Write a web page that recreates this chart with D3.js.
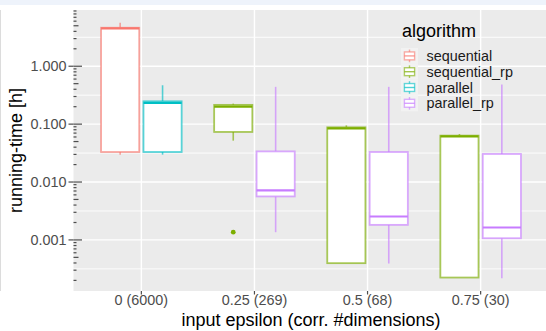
<!DOCTYPE html>
<html><head><meta charset="utf-8">
<script src="https://cdn.jsdelivr.net/npm/d3@7"></script>
<style>body{margin:0;background:#fff}svg{display:block}</style>
</head><body>
<svg id="chart" width="546" height="331"></svg>
<script>
// ---------------- data ----------------
const categories = ["0 (6000)", "0.25 (269)", "0.5 (68)", "0.75 (30)"];
const algorithms = ["sequential", "sequential_rp", "parallel", "parallel_rp"];
const algoColors = ["#F8766D", "#7CAE00", "#00BFC4", "#C77CFF"];

const boxCategory  = ["0 (6000)", "0 (6000)", "0.25 (269)", "0.25 (269)", "0.5 (68)", "0.5 (68)", "0.75 (30)", "0.75 (30)"];
const boxAlgorithm = ["sequential", "parallel", "sequential_rp", "parallel_rp", "sequential_rp", "parallel_rp", "sequential_rp", "parallel_rp"];
const whiskerLow   = [0.0297, 0.0297, 0.0518, 0.00136, 0.000397, 0.000391, 0.000224, 0.000218];
const quartile1    = [0.033, 0.033, 0.0733, 0.00564, 0.000397, 0.00182, 0.000224, 0.00107];
const medians      = [4.49, 0.233, 0.201, 0.00716, 0.0846, 0.00254, 0.0615, 0.00164];
const quartile3    = [4.62, 0.248, 0.215, 0.0338, 0.088, 0.033, 0.0633, 0.0305];
const whiskerHigh  = [5.63, 0.469, 0.226, 0.44, 0.0953, 0.44, 0.0676, 0.482];

const outlierCategory  = ["0.25 (269)"];
const outlierAlgorithm = ["sequential_rp"];
const outlierValue     = [0.00136];

const yTickValues = [1, 0.1, 0.01, 0.001];
const yTickLabels = ["1.000", "0.100", "0.010", "0.001"];
const yMinorGrid  = [3.1623, 0.31623, 0.031623, 0.0031623, 0.00031623];

const xTitle = "input epsilon (corr. #dimensions)";
const yTitle = "running-time [h]";
const legendTitle = "algorithm";

// ---------------- layout ----------------
const W = 546, H = 331;
const panel = {left: 73.5, right: 548.5, top: 10, bottom: 291};
const font = "'Liberation Sans', Arial, Helvetica, sans-serif";
const svg = d3.select("#chart").attr("font-family", font);

svg.append("rect").attr("x", 0).attr("y", 0).attr("width", W).attr("height", 5).attr("fill", "#eef3fb");
svg.append("line").attr("x1", 0.5).attr("x2", 0.5).attr("y1", panel.top).attr("y2", panel.bottom)
  .attr("stroke", "#dcdcdc").attr("stroke-width", 1);

const x = d3.scalePoint().domain(categories).range([panel.left, panel.right]).padding(0.6);
const step = x.step();

const allVals = whiskerLow.concat(whiskerHigh, outlierValue).map(Math.log10);
const lo = d3.min(allVals), hi = d3.max(allVals), ex = (hi - lo) * 0.05;
const y = d3.scaleLog().domain([Math.pow(10, lo - ex), Math.pow(10, hi + ex)]).range([panel.bottom, panel.top]);
const color = d3.scaleOrdinal().domain(algorithms).range(algoColors);

// panel background
svg.append("rect").attr("x", panel.left).attr("y", panel.top)
  .attr("width", panel.right - panel.left).attr("height", panel.bottom - panel.top).attr("fill", "#ebebeb");

const grid = svg.append("g");
grid.selectAll(".minor").data(yMinorGrid.filter(v => y(v) >= panel.top && y(v) <= panel.bottom)).join("line")
  .attr("x1", panel.left).attr("x2", panel.right).attr("y1", d => y(d)).attr("y2", d => y(d))
  .attr("stroke", "#fff").attr("stroke-width", 0.9);
grid.selectAll(".major").data(yTickValues).join("line")
  .attr("x1", panel.left).attr("x2", panel.right).attr("y1", d => y(d)).attr("y2", d => y(d))
  .attr("stroke", "#fff").attr("stroke-width", 1.4);
grid.selectAll(".vmajor").data(categories).join("line")
  .attr("x1", d => x(d)).attr("x2", d => x(d)).attr("y1", panel.top).attr("y2", panel.bottom)
  .attr("stroke", "#fff").attr("stroke-width", 1.4);

// log ticks along left edge
const logTicks = [];
for (let k = -5; k <= 1; k++) for (let m = 1; m <= 9; m++) {
  const v = m * Math.pow(10, k);
  if (y(v) >= panel.top && y(v) <= panel.bottom) logTicks.push({v, m});
}
svg.append("g").selectAll("line").data(logTicks).join("line")
  .attr("x1", panel.left).attr("x2", d => panel.left + (d.m === 1 ? 8.5 : d.m === 5 ? 5 : 3))
  .attr("y1", d => y(d.v)).attr("y2", d => y(d.v))
  .attr("stroke", "#4d4d4d").attr("stroke-width", 1.2);

// boxes
const boxes = boxCategory.map((c, i) => ({
  cat: c, algo: boxAlgorithm[i], lw: whiskerLow[i], q1: quartile1[i], med: medians[i], q3: quartile3[i], hw: whiskerHigh[i]
}));
function slotCenter(cat, algo) {
  const present = algorithms.filter(a => boxes.some(b => b.cat === cat && b.algo === a));
  const i = present.indexOf(algo), n = present.length;
  const slot = 0.75 * step / n;
  return x(cat) + (i - (n - 1) / 2) * slot;
}
const boxW = 0.75 * step / 2 * 0.9;
const bg = svg.append("g");
boxes.forEach(b => {
  const cx = slotCenter(b.cat, b.algo), col = color(b.algo);
  const g = bg.append("g");
  g.append("line").attr("x1", cx).attr("x2", cx).attr("y1", y(b.hw)).attr("y2", y(b.q3))
    .attr("stroke", col).attr("stroke-opacity", 0.65).attr("stroke-width", 1.6);
  g.append("line").attr("x1", cx).attr("x2", cx).attr("y1", y(b.q1)).attr("y2", y(b.lw))
    .attr("stroke", col).attr("stroke-opacity", 0.65).attr("stroke-width", 1.6);
  g.append("rect").attr("x", cx - boxW / 2).attr("width", boxW)
    .attr("y", y(b.q3)).attr("height", Math.max(0.5, y(b.q1) - y(b.q3)))
    .attr("fill", "#fff").attr("stroke", col).attr("stroke-opacity", 0.65).attr("stroke-width", 1.8);
  g.append("line").attr("x1", cx - boxW / 2).attr("x2", cx + boxW / 2).attr("y1", y(b.med)).attr("y2", y(b.med))
    .attr("stroke", col).attr("stroke-width", 2.2);
});
outlierValue.forEach((v, i) => {
  bg.append("circle").attr("cx", slotCenter(outlierCategory[i], outlierAlgorithm[i])).attr("cy", y(v))
    .attr("r", 2.4).attr("fill", color(outlierAlgorithm[i]));
});

// axes
const axY = svg.append("g");
yTickValues.forEach((v, i) => {
  axY.append("line").attr("x1", panel.left - 5).attr("x2", panel.left).attr("y1", y(v)).attr("y2", y(v))
    .attr("stroke", "#4d4d4d").attr("stroke-width", 1.2);
  axY.append("text").attr("x", panel.left - 7).attr("y", y(v)).attr("dy", "0.36em")
    .attr("text-anchor", "end").attr("font-size", 14.4).attr("fill", "#4d4d4d").text(yTickLabels[i]);
});
const axX = svg.append("g");
categories.forEach(c => {
  axX.append("line").attr("x1", x(c)).attr("x2", x(c)).attr("y1", panel.bottom).attr("y2", panel.bottom + 3.5)
    .attr("stroke", "#4d4d4d").attr("stroke-width", 1.2);
  axX.append("text").attr("x", x(c)).attr("y", 305).attr("text-anchor", "middle")
    .attr("font-size", 14.4).attr("fill", "#4d4d4d").text(c);
});
svg.append("text").attr("x", (panel.left + panel.right) / 2).attr("y", 325.5).attr("text-anchor", "middle")
  .attr("font-size", 18).attr("fill", "#000").text(xTitle);
svg.append("text").attr("transform", `translate(21.5,${(panel.top + panel.bottom) / 2}) rotate(-90)`)
  .attr("text-anchor", "middle").attr("font-size", 18).attr("fill", "#000").text(yTitle);

// legend (transparent background, drawn over the panel)
const lg = svg.append("g");
lg.append("text").attr("x", 402).attr("y", 36.5).attr("font-size", 18).attr("fill", "#000").text(legendTitle);
const keyX = 401, keyW = 17, keyH = 15.8, key0 = 48;
algorithms.forEach((a, i) => {
  const ky = key0 + i * keyH, col = color(a), cx = keyX + keyW / 2;
  lg.append("rect").attr("x", keyX).attr("y", ky).attr("width", keyW).attr("height", keyH).attr("fill", "#f2f2f2");
  lg.append("line").attr("x1", cx).attr("x2", cx).attr("y1", ky + keyH * 0.1).attr("y2", ky + keyH * 0.9)
    .attr("stroke", col).attr("stroke-opacity", 0.6).attr("stroke-width", 1.4);
  lg.append("rect").attr("x", keyX + keyW * 0.2).attr("y", ky + keyH * 0.25).attr("width", keyW * 0.6).attr("height", keyH * 0.5)
    .attr("fill", "#fff").attr("stroke", col).attr("stroke-opacity", 0.6).attr("stroke-width", 1.4);
  lg.append("line").attr("x1", keyX + keyW * 0.2).attr("x2", keyX + keyW * 0.8).attr("y1", ky + keyH / 2).attr("y2", ky + keyH / 2)
    .attr("stroke", col).attr("stroke-opacity", 0.7).attr("stroke-width", 1.4);
  lg.append("text").attr("x", 426.5).attr("y", ky + keyH / 2).attr("dy", "0.36em")
    .attr("font-size", 14.4).attr("fill", "#1a1a1a").text(a);
});
</script>
</body></html>
